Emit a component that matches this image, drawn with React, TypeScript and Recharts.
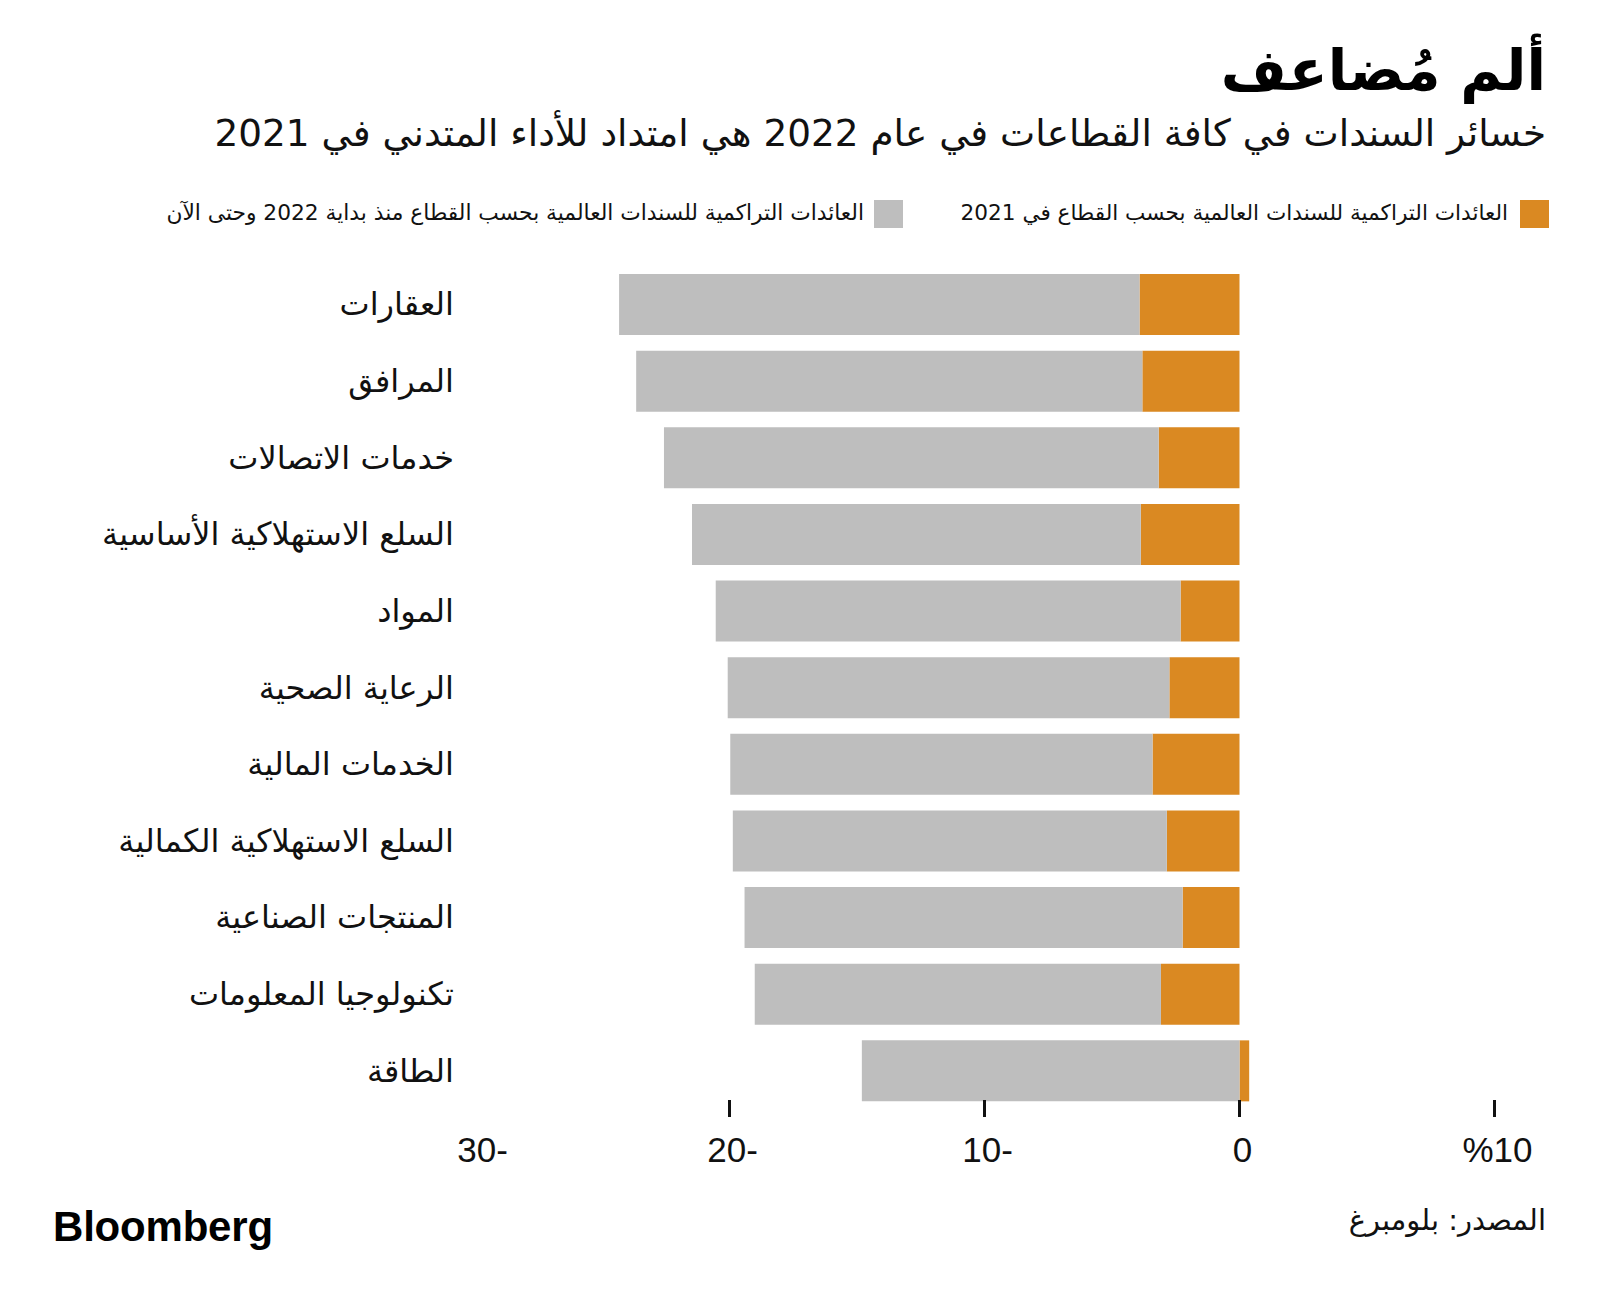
import React from 'react';
import { BarChart, Bar, XAxis, YAxis } from 'recharts';

const sectors = [
  'العقارات',
  'المرافق',
  'خدمات الاتصالات',
  'السلع الاستهلاكية الأساسية',
  'المواد',
  'الرعاية الصحية',
  'الخدمات المالية',
  'السلع الاستهلاكية الكمالية',
  'المنتجات الصناعية',
  'تكنولوجيا المعلومات',
  'الطاقة',
];
const returns2021 = [-3.92, -3.81, -3.17, -3.87, -2.31, -2.75, -3.41, -2.85, -2.23, -3.08, 0.38];
const returns2022 = [-20.41, -19.85, -19.4, -17.6, -18.23, -17.32, -16.56, -17.02, -17.18, -15.93, -14.81];
const xTicks = [-30, -20, -10, 0, 10];
const xTickLabels = ['30-', '20-', '10-', '0', '%10'];

const titleText = 'ألم مُضاعف';
const subtitleText = 'خسائر السندات في كافة القطاعات في عام 2022 هي امتداد للأداء المتدني في 2021';
const legend2021 = 'العائدات التراكمية للسندات العالمية بحسب القطاع في 2021';
const legend2022 = 'العائدات التراكمية للسندات العالمية بحسب القطاع منذ بداية 2022 وحتى الآن';
const sourceText = 'المصدر: بلومبرغ';

const ORANGE = '#DA8922';
const GRAY = '#BEBEBE';
const AR_FONT = '"DejaVu Sans", sans-serif';
const NUM_FONT = '"Liberation Sans", Arial, sans-serif';

const data = sectors.map((s, i) => ({ sector: s, y2021: returns2021[i], y2022: returns2022[i] }));

const YTick = (props: any) => {
  const { x, y, payload } = props;
  return (
    <text
      x={x - 20.5}
      y={y}
      textAnchor="end"
      dominantBaseline="central"
      fontFamily={AR_FONT}
      fontSize={32}
      fill="#111"
    >
      {payload.value}
    </text>
  );
};

const XTick = (props: any) => {
  const { x, y, payload } = props;
  const idx = xTicks.indexOf(payload.value);
  const label = xTickLabels[idx];
  const first = idx === 0;
  return (
    <g>
      {!first && <line x1={x} x2={x} y1={y - 9} y2={y + 8} stroke="#111" strokeWidth={3} />}
      <text
        x={x + (first ? 8 : 3)}
        y={y + 53}
        textAnchor="middle"
        fontFamily={NUM_FONT}
        fontSize={35}
        fill="#111"
      >
        {label}
      </text>
    </g>
  );
};

const abs = (style: React.CSSProperties): React.CSSProperties => ({
  position: 'absolute',
  whiteSpace: 'nowrap',
  lineHeight: 1,
  direction: 'rtl',
  color: '#111',
  ...style,
});

export default function App() {
  return (
    <div style={{ position: 'absolute', left: 0, top: 0, width: 1600, height: 1306, background: '#fff', overflow: 'hidden' }}>
      <div style={abs({ right: 54, top: 42, fontSize: 57, fontWeight: 'bold', fontFamily: AR_FONT, color: '#000' })}>
        {titleText}
      </div>
      <div style={abs({ right: 54, top: 115, fontSize: 37.4, fontFamily: AR_FONT })}>{subtitleText}</div>

      <div style={{ position: 'absolute', left: 1520, top: 200, width: 29, height: 28, background: ORANGE }} />
      <div style={abs({ right: 1600 - 1508, top: 202, fontSize: 21.6, fontFamily: AR_FONT })}>{legend2021}</div>
      <div style={{ position: 'absolute', left: 874, top: 200, width: 29, height: 28, background: GRAY }} />
      <div style={abs({ right: 1600 - 864, top: 202, fontSize: 21.75, fontFamily: AR_FONT })}>{legend2022}</div>

      <div style={{ position: 'absolute', left: 0, top: 0 }}>
        <BarChart
          width={1600}
          height={1306}
          data={data}
          layout="vertical"
          stackOffset="sign"
          margin={{ top: 266, right: 105.5, left: 0, bottom: 137 }}
          barSize={61}
        >
          <XAxis
            type="number"
            domain={[-30, 10]}
            ticks={xTicks}
            axisLine={false}
            tickLine={false}
            tickSize={0}
            tickMargin={0}
            height={60}
            interval={0}
            tick={<XTick />}
          />
          <YAxis
            type="category"
            dataKey="sector"
            width={474.5}
            axisLine={false}
            tickLine={false}
            tickSize={0}
            tickMargin={0}
            interval={0}
            tick={<YTick />}
          />
          <Bar dataKey="y2021" stackId="a" fill={ORANGE} isAnimationActive={false} />
          <Bar dataKey="y2022" stackId="a" fill={GRAY} isAnimationActive={false} />
        </BarChart>
      </div>

      <div style={abs({ left: 53, top: 1206, fontSize: 42, fontWeight: 'bold', fontFamily: NUM_FONT, direction: 'ltr', letterSpacing: -0.2, color: '#000' })}>
        Bloomberg
      </div>
      <div style={abs({ right: 54, top: 1206, fontSize: 29, fontFamily: AR_FONT })}>{sourceText}</div>
    </div>
  );
}
